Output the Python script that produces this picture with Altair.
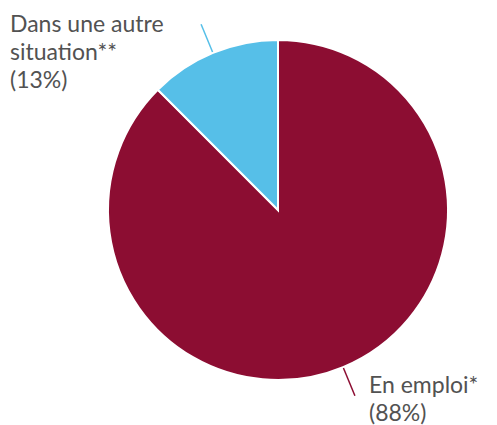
import math
import altair as alt
import pandas as pd

# ---- data ----
categories = ["En emploi*", "Dans une autre situation**"]
values = [87.5, 12.5]
label_lines = [["En emploi*", "(88%)"], ["Dans une autre", "situation**", "(13%)"]]
colors = ["#8C0D32", "#56BFE8"]

# ---- geometry (chart coords) ----
CX, CY, R = 270, 202, 170
W, H = 481, 417

df = pd.DataFrame({"cat": categories, "val": values, "order": [0, 1]})

# leader lines computed from slice mid-angles
total = sum(values)
starts, acc = [], 0.0
for v in values:
    starts.append(acc)
    acc += v
mids = [(s + v / 2) / total * 2 * math.pi for s, v in zip(starts, values)]
r1, r2 = R + 1, R + 31
lines = pd.DataFrame({
    "cat": categories,
    "x": [CX + r1 * math.sin(a) for a in mids],
    "y": [CY - r1 * math.cos(a) for a in mids],
    "x2": [CX + r2 * math.sin(a) for a in mids],
    "y2": [CY - r2 * math.cos(a) for a in mids],
})

# label anchors (text block placement next to the leader line ends)
text_x = [361, 2]
text_y = [385, 24]
texts = pd.DataFrame({"cat": categories, "txt": label_lines, "x": text_x, "y": text_y})

color_scale = alt.Scale(domain=categories, range=colors)

pie = alt.Chart(df).mark_arc(outerRadius=R, stroke="white", strokeWidth=2).encode(
    theta=alt.Theta("val:Q", stack=True),
    order=alt.Order("order:Q"),
    color=alt.Color("cat:N", scale=color_scale, legend=None),
    x=alt.value(CX),
    y=alt.value(CY),
)

leaders = alt.Chart(lines).mark_rule(strokeWidth=1.5).encode(
    x=alt.X("x:Q", scale=alt.Scale(domain=[0, W], range=[0, W]), axis=None),
    y=alt.Y("y:Q", scale=alt.Scale(domain=[0, H], range=[0, H]), axis=None),
    x2="x2:Q",
    y2="y2:Q",
    color=alt.Color("cat:N", scale=color_scale, legend=None),
)

labels = alt.Chart(texts).mark_text(
    align="left", baseline="alphabetic", font="Lato", fontSize=23,
    lineHeight=28, color="#525252",
).encode(
    x=alt.X("x:Q", scale=alt.Scale(domain=[0, W], range=[0, W]), axis=None),
    y=alt.Y("y:Q", scale=alt.Scale(domain=[0, H], range=[0, H]), axis=None),
    text="txt",
)

chart = alt.layer(pie, leaders, labels).properties(
    width=W, height=H, padding=0, autosize=alt.AutoSizeParams(type="none")
).configure_view(stroke=None)

chart.save("out.html", embed_options={"renderer": "svg", "actions": False})
